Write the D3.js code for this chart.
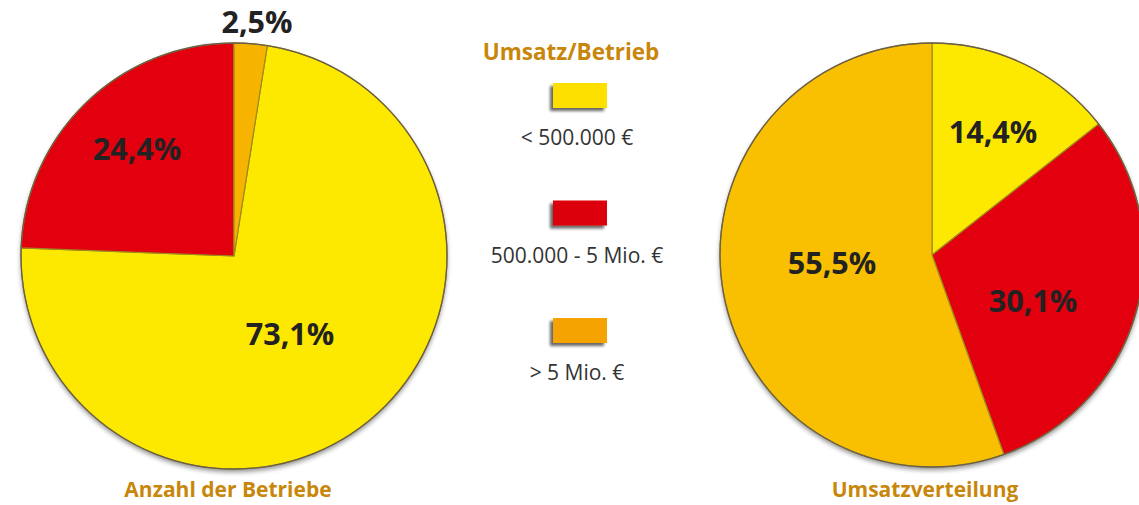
<!DOCTYPE html>
<html>
<head>
<meta charset="utf-8">
<script src="https://cdn.jsdelivr.net/npm/d3@7"></script>
<style>
  body { margin: 0; background: #fff; }
  svg { display: block; font-family: "Open Sans", "Noto Sans", sans-serif; }
</style>
</head>
<body>
<script>
// data
var categories = ["< 500.000 €", "500.000 - 5 Mio. €", "> 5 Mio. €"];
var betriebe = [73.1, 24.4, 2.5];      // Anzahl der Betriebe
var umsatz = [14.4, 30.1, 55.5];       // Umsatzverteilung
var legendTitle = "Umsatz/Betrieb";
var pieTitles = ["Anzahl der Betriebe", "Umsatzverteilung"];

var svg = d3.select("body").append("svg")
  .attr("width", 1139)
  .attr("height", 505);

var defs = svg.append("defs");
var sh = defs.append("filter").attr("id", "pieShadow")
  .attr("x", "-10%").attr("y", "-10%").attr("width", "120%").attr("height", "120%");
sh.append("feGaussianBlur").attr("in", "SourceAlpha").attr("stdDeviation", 2.5);
sh.append("feOffset").attr("dx", 0).attr("dy", 3).attr("result", "b");
sh.append("feComponentTransfer").append("feFuncA").attr("type", "linear").attr("slope", 0.45);
var m1 = sh.append("feMerge");
m1.append("feMergeNode");
m1.append("feMergeNode").attr("in", "SourceGraphic");

var bs = defs.append("filter").attr("id", "boxShadow")
  .attr("x", "-30%").attr("y", "-30%").attr("width", "160%").attr("height", "170%");
bs.append("feGaussianBlur").attr("in", "SourceAlpha").attr("stdDeviation", 1.8);
bs.append("feOffset").attr("dx", -3).attr("dy", 3);
bs.append("feComponentTransfer").append("feFuncA").attr("type", "linear").attr("slope", 0.6);
var m2 = bs.append("feMerge");
m2.append("feMergeNode");
m2.append("feMergeNode").attr("in", "SourceGraphic");

var pieColorsLeft = ["#fde800", "#e2000f", "#f6b400"];
var pieColorsRight = ["#fde800", "#e2000f", "#f8c000"];
var legendColors = ["#fde000", "#dc000c", "#f5a300"];

var pie = d3.pie().sort(null).value(function(d) { return d; });

function drawPie(values, cx, cy, r, startAngle, colors, labelPos) {
  var g = svg.append("g").attr("transform", "translate(" + cx + "," + cy + ")");
  var arc = d3.arc().innerRadius(0).outerRadius(r);
  var arcs = pie.startAngle(startAngle).endAngle(startAngle + 2 * Math.PI)(values);

  g.append("circle").attr("r", r).attr("fill", "#fff")
    .attr("filter", "url(#pieShadow)");

  g.selectAll("path.slice")
    .data(arcs)
    .enter().append("path")
    .attr("class", "slice")
    .attr("d", arc)
    .attr("fill", function(d, i) { return colors[i]; })
    .attr("stroke", "#9c8a1c")
    .attr("stroke-width", 1.2);

  g.append("circle").attr("r", r).attr("fill", "none")
    .attr("stroke", "#6a5e48").attr("stroke-width", 1.3);

  g.selectAll("text.pct")
    .data(arcs)
    .enter().append("text")
    .attr("class", "pct")
    .attr("x", function(d, i) { return labelPos[i][0]; })
    .attr("y", function(d, i) { return labelPos[i][1]; })
    .attr("text-anchor", "middle")
    .attr("dy", "0.35em")
    .attr("font-size", "30.5px")
    .attr("font-weight", "bold")
    .attr("fill", "#222")
    .text(function(d) { return d3.format(".1f")(d.value).replace(".", ",") + "%"; });
}

// left pie: order yellow, red, orange; orange starts at 12 o'clock
var startL = (betriebe[2] / 100) * 2 * Math.PI;
drawPie(betriebe, 234, 256, 213, startL, pieColorsLeft,
  [[56, 78], [-97, -107], [23, -234]]);

// right pie: yellow from 12 o'clock clockwise
drawPie(umsatz, 932, 255, 212, 0, pieColorsRight,
  [[61, -123], [101, 46], [-100, 8]]);

// legend
svg.append("text")
  .attr("x", 571).attr("y", 52)
  .attr("dy", "0.35em")
  .attr("text-anchor", "middle")
  .attr("font-size", "22.5px")
  .attr("font-weight", "bold")
  .attr("fill", "#c8860a")
  .text(legendTitle);

var ly = d3.scalePoint().domain(categories).range([83, 318]);

var leg = svg.selectAll(".legend")
  .data(categories)
  .enter().append("g")
  .attr("class", "legend")
  .attr("transform", function(d) { return "translate(0," + ly(d) + ")"; });

leg.append("rect")
  .attr("x", 553).attr("y", 0)
  .attr("width", 54).attr("height", 25)
  .attr("fill", function(d, i) { return legendColors[i]; })
  .attr("filter", "url(#boxShadow)");

leg.append("text")
  .attr("x", 577).attr("y", 55)
  .attr("dy", "0.35em")
  .attr("text-anchor", "middle")
  .attr("font-size", "21px")
  .attr("fill", "#333")
  .text(function(d) { return d; });

// pie titles
svg.selectAll(".ptitle")
  .data(pieTitles)
  .enter().append("text")
  .attr("class", "ptitle")
  .attr("x", function(d, i) { return [228, 925][i]; })
  .attr("y", 490)
  .attr("dy", "0.35em")
  .attr("text-anchor", "middle")
  .attr("font-size", "21px")
  .attr("font-weight", "bold")
  .attr("fill", "#c8860a")
  .text(function(d) { return d; });
</script>
</body>
</html>
